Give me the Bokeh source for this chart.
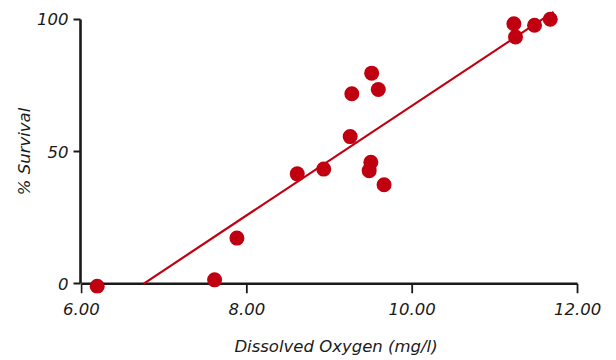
from bokeh.plotting import figure
from bokeh.models import Range1d, FixedTicker, NumeralTickFormatter, ColumnDataSource
from bokeh.embed import file_html
from bokeh.resources import INLINE

# Data
dissolved_oxygen = [6.19, 7.61, 7.88, 8.61, 8.93, 9.25, 9.27, 9.51, 9.59,
                    9.50, 9.48, 9.66, 11.23, 11.25, 11.48, 11.67]
survival = [-0.9, 1.5, 17.3, 41.6, 43.4, 55.7, 71.9, 79.7, 73.5,
            46.0, 42.8, 37.5, 98.4, 93.4, 97.8, 100.1]
fit_x = [6.75, 11.71]
fit_y = [0.0, 102.9]
x_ticks = [6.0, 8.0, 10.0, 12.0]
y_ticks = [0, 50, 100]

RED = "#C00010"
INK = "#1a1a1a"
FONT = "DejaVu Sans"
FS = "16.5px"
PX_X = 82.67   # pixels per x unit
PX_Y = 2.643   # pixels per y unit

p = figure(width=616, height=360, output_backend="svg", toolbar_location=None,
           x_range=Range1d(5.988, 12.169), y_range=Range1d(-3.67, 103.78),
           min_border_left=80, min_border_right=25, min_border_top=9,
           min_border_bottom=67)
p.outline_line_color = None
p.xgrid.visible = False
p.ygrid.visible = False
p.background_fill_color = "white"

# x axis rule at y = 0 from the first to the last tick, and its downward ticks
p.hbar(y=[0], left=[x_ticks[0]], right=[x_ticks[-1]], height=2.6 / PX_Y,
       fill_color=INK, line_color=None)
tick_src = ColumnDataSource(data=dict(
    tx=[float(t) for t in x_ticks],
    ttop=[0.0 for _ in x_ticks],
    tbottom=[-10.0 / PX_Y for _ in x_ticks],
))
p.vbar(x="tx", top="ttop", bottom="tbottom", width=1.8 / PX_X, source=tick_src,
       fill_color=INK, line_color=None)

p.line(fit_x, fit_y, line_color=RED, line_width=2.2)
p.scatter(dissolved_oxygen, survival, size=15, fill_color=RED, line_color=None)


def style(ax):
    ax.axis_line_width = 2.6
    ax.axis_line_color = INK
    ax.major_tick_line_width = 1.8
    ax.major_tick_line_color = INK
    ax.minor_tick_line_color = None
    ax.major_label_text_font = FONT
    ax.major_label_text_font_style = "italic"
    ax.major_label_text_font_size = FS
    ax.major_label_text_color = INK
    ax.axis_label_text_font = FONT
    ax.axis_label_text_font_style = "italic"
    ax.axis_label_text_font_size = FS
    ax.axis_label_text_color = INK


xa = p.xaxis[0]
style(xa)
xa.ticker = FixedTicker(ticks=list(x_ticks))
xa.formatter = NumeralTickFormatter(format="0.00")
xa.axis_line_color = None
xa.major_tick_line_color = None
xa.major_tick_in = 0
xa.major_tick_out = 0
xa.major_label_standoff = 9
xa.axis_label = "Dissolved Oxygen (mg/l)"
xa.axis_label_standoff = 19

ya = p.yaxis[0]
style(ya)
ya.ticker = FixedTicker(ticks=list(y_ticks))
ya.bounds = (0, 100)
ya.major_tick_in = 0
ya.major_tick_out = 7
ya.major_label_standoff = 5
ya.axis_label = "% Survival"
ya.axis_label_standoff = 0

open("out.html", "w").write(file_html(p, INLINE))
